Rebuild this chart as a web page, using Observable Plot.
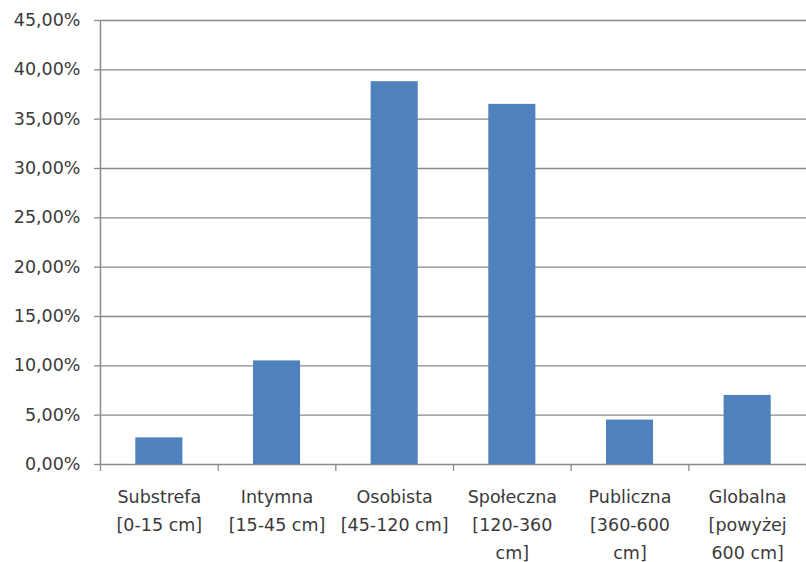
<!DOCTYPE html>
<html>
<head>
<meta charset="utf-8">
<script src="https://cdn.jsdelivr.net/npm/d3@7"></script>
<script src="https://cdn.jsdelivr.net/npm/@observablehq/plot@0.6"></script>
<style>
  html, body { margin: 0; padding: 0; background: #fff; }
</style>
</head>
<body>
<div id="chart"></div>
<script>
const categories = ["Substrefa", "Intymna", "Osobista", "Społeczna", "Publiczna", "Globalna"];
const labelLines = [
  "Substrefa\n[0-15 cm]",
  "Intymna\n[15-45 cm]",
  "Osobista\n[45-120 cm]",
  "Społeczna\n[120-360\ncm]",
  "Publiczna\n[360-600\ncm]",
  "Globalna\n[powyżej\n600 cm]"
];
const values = [0.027, 0.105, 0.388, 0.365, 0.045, 0.070];
const yTicks = [0, 0.05, 0.10, 0.15, 0.20, 0.25, 0.30, 0.35, 0.40, 0.45];

const data = categories.map((c, i) => ({cat: c, i, label: labelLines[i], value: values[i]}));
const fmt = d => d3.format(".2f")(d * 100).replace(".", ",") + "%";

const gridColor = "#8a8a8a";
const textColor = "#3a3a3a";

const chart = Plot.plot({
  width: 806,
  height: 562,
  marginLeft: 100,
  marginRight: 0,
  marginTop: 20,
  marginBottom: 98,
  style: {fontFamily: "'DejaVu Sans', Verdana, sans-serif", fontSize: "17.5px", color: textColor, background: "#fff"},
  x: {domain: [0, categories.length], axis: null},
  y: {domain: [0, 0.45], axis: null},
  marks: [
    Plot.gridY(yTicks, {stroke: gridColor, strokeOpacity: 1, strokeWidth: 1.3}),
    Plot.axisY(yTicks, {tickFormat: fmt, tickSize: 6, tickPadding: 14, label: null, stroke: gridColor, strokeWidth: 1.3, fill: textColor}),
    Plot.rectY(data, {x1: d => d.i + 0.3, x2: d => d.i + 0.7, y: "value", fill: "#4f81bd"}),
    Plot.ruleX([0], {stroke: gridColor, strokeWidth: 1.5}),
    Plot.axisX(d3.range(categories.length + 1), {tickFormat: () => "", tickSize: 7, label: null, stroke: gridColor, strokeWidth: 1.3}),
    Plot.axisX(data.map(d => d.i + 0.5), {
      tickSize: 0, tickPadding: 19, lineHeight: 1.6, label: null, fill: textColor,
      tickFormat: v => labelLines[Math.floor(v)]
    })
  ]
});
document.getElementById("chart").appendChild(chart);
</script>
</body>
</html>
